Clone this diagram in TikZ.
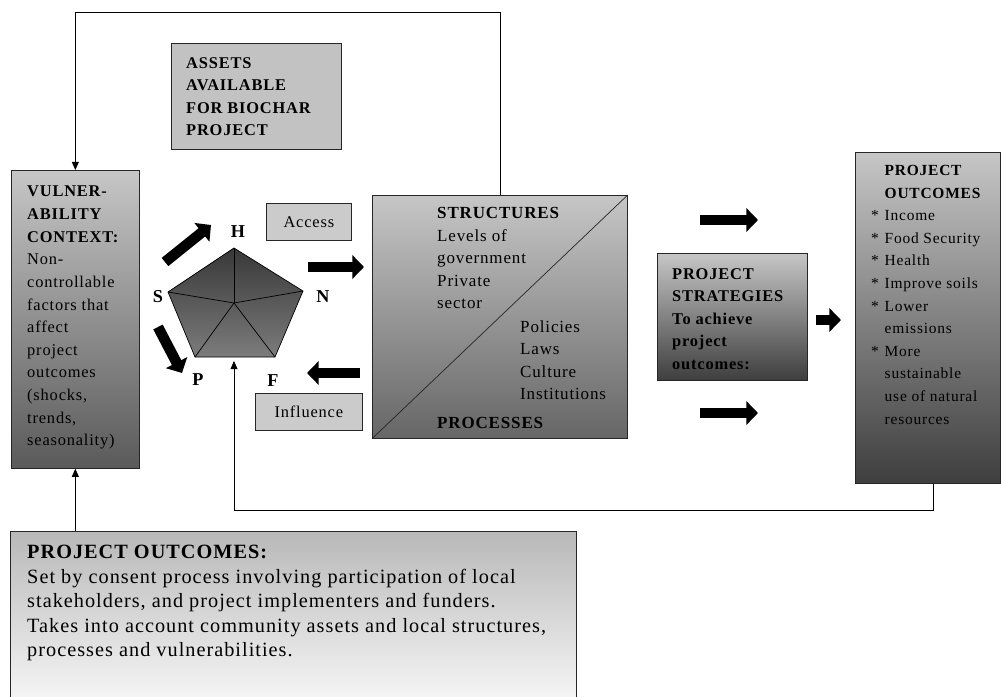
\documentclass[tikz,border=0pt]{standalone}
\usepackage{fontspec}
\setmainfont{Liberation Serif}[LetterSpace=5]
\usetikzlibrary{positioning,arrows.meta,calc}
\definecolor{bxtop}{HTML}{C6C6C6}
\definecolor{bxbot}{HTML}{5A5A5A}
\definecolor{bxmid}{HTML}{666666}
\definecolor{bxdark}{HTML}{3E3E3E}
\definecolor{bxflat}{HTML}{C2C2C2}
\definecolor{bxpale}{HTML}{F6F6F6}
\definecolor{pentop}{HTML}{383838}
\definecolor{penbot}{HTML}{7C7C7C}
\newcommand{\bul}{\makebox[11.5pt][l]{*}}
\newcommand{\ind}{\hspace*{11.5pt}}

\begin{document}
\begin{tikzpicture}[x=0.03cm, y=-0.03cm,
  box/.style={rectangle, draw=black!85, line width=0.6pt, anchor=north west, inner sep=0pt},
  txt/.style={anchor=north west, inner sep=0pt, align=left, font=\fontsize{14}{19.3}\selectfont},
  vtx/.style={font=\fontsize{15.5}{18}\selectfont\bfseries, inner sep=1pt},
  feed/.style={line width=0.6pt, -{Triangle[length=7pt,width=6pt]}},
  fatarrow/.style={line width=9pt, -{Triangle[length=10pt,width=20pt]}}
]
\useasboundingbox (0,0) rectangle (1001,697);

% boxes
\node[box, top color=bxtop, bottom color=bxbot, minimum width=3.84cm, minimum height=8.94cm] (vuln) at (11,170) {};
\node[box, fill=bxflat, minimum width=5.10cm, minimum height=3.18cm] (assets) at (171,43) {};
\node[box, fill=bxflat!85!white, minimum width=2.55cm, minimum height=1.11cm, font=\fontsize{14}{18}\selectfont] (access) at (266,203) {Access};
\node[box, fill=bxflat!85!white, minimum width=3.21cm, minimum height=1.11cm, font=\fontsize{14}{18}\selectfont] (infl) at (255,393) {Influence};
\node[box, top color=bxtop, bottom color=bxmid, minimum width=7.65cm, minimum height=7.29cm] (struct) at (372,195) {};
\node[box, top color=bxtop, bottom color=bxdark, minimum width=4.50cm, minimum height=3.81cm] (strat) at (657,253) {};
\node[box, top color=bxtop, bottom color=bxdark, minimum width=4.35cm, minimum height=9.93cm] (outc) at (855,152) {};
\node[box, top color=bxflat!95!black, bottom color=bxpale, minimum width=16.98cm, minimum height=5.10cm] (goal) at (10,531) {};
\draw[line width=0.6pt, black!85] (struct.south west) -- (struct.north east);

% box texts
\node[txt] (vulnTxt) at (27,186) {\textbf{VULNER-}\\\textbf{ABILITY}\\\textbf{CONTEXT:}\\Non-\\controllable\\factors that\\affect\\project\\outcomes\\(shocks,\\trends,\\seasonality)};
\node[txt] (assetsTxt) at (186,57) {\textbf{ASSETS}\\\textbf{AVAILABLE}\\\textbf{FOR BIOCHAR}\\\textbf{PROJECT}};
\node[txt, font=\fontsize{14.5}{19.3}\selectfont] (structTxt) at (437,207) {\textbf{STRUCTURES}\\Levels of\\government\\Private\\sector};
\node[txt, font=\fontsize{14.5}{19.3}\selectfont] (procTxt) at (520,320) {Policies\\Laws\\Culture\\Institutions};
\node[txt, font=\fontsize{14.5}{19.3}\selectfont\bfseries] (procHead) at (437,417) {PROCESSES};
\node[txt, font=\fontsize{14}{19.3}\selectfont\bfseries] (stratTxt) at (672,268) {PROJECT\\STRATEGIES\\To achieve\\project\\outcomes:};
\node[txt, font=\fontsize{13.2}{19.3}\selectfont] (outcTxt) at (871,165) {\ind\textbf{PROJECT}\\\ind\textbf{OUTCOMES}\\\bul Income\\\bul Food Security\\\bul Health\\\bul Improve soils\\\bul Lower\\\ind emissions\\\bul More\\\ind sustainable\\\ind use of natural\\\ind resources};
\node[txt, font=\fontsize{17.3}{20.9}\selectfont] (goalTxt) at (27,545) {\textbf{PROJECT OUTCOMES:}\\Set by consent process involving participation of local\\stakeholders, and project implementers and funders.\\Takes into account community assets and local structures,\\processes and vulnerabilities.};

% asset pentagon
\coordinate (pH) at (234,248);
\coordinate (pN) at (303,291);
\coordinate (pF) at (275,357);
\coordinate (pP) at (195,357);
\coordinate (pS) at (168,292);
\coordinate (pC) at (234,303);
\draw[line width=0.6pt, top color=pentop, bottom color=penbot] (pH) -- (pN) -- (pF) -- (pP) -- (pS) -- cycle;
\foreach \v in {pH,pN,pF,pP,pS}
  \draw[line width=0.6pt] (pC) -- (\v);
\node[vtx] (lblH) at (238,232) {H};
\node[vtx] (lblN) at (323,297) {N};
\node[vtx] (lblF) at (273,381) {F};
\node[vtx] (lblP) at (198,380) {P};
\node[vtx] (lblS) at (158,297) {S};

% fat arrows
\draw[fatarrow] (165,262) -- (211,225);
\draw[fatarrow] (158,327) -- (182,373);
\draw[fatarrow] (308,267) -- (364,267);
\draw[fatarrow] (360,373) -- (307,373);
\draw[fatarrow] (700,220) -- (758,220);
\draw[fatarrow] (700,413) -- (758,413);
\draw[fatarrow] (816,320) -- (841,320);

% feedback lines
\draw[feed] (struct.north) -- ++(0,-183) -| (vuln.north);
\coordinate (pBot) at (234,361);
\draw[feed] ([xshift=0.165cm]outc.south) -- ++(0,27) -| (pBot);
\draw[feed] (vuln.south |- goal.north) -- (vuln.south);
\end{tikzpicture}
\end{document}
